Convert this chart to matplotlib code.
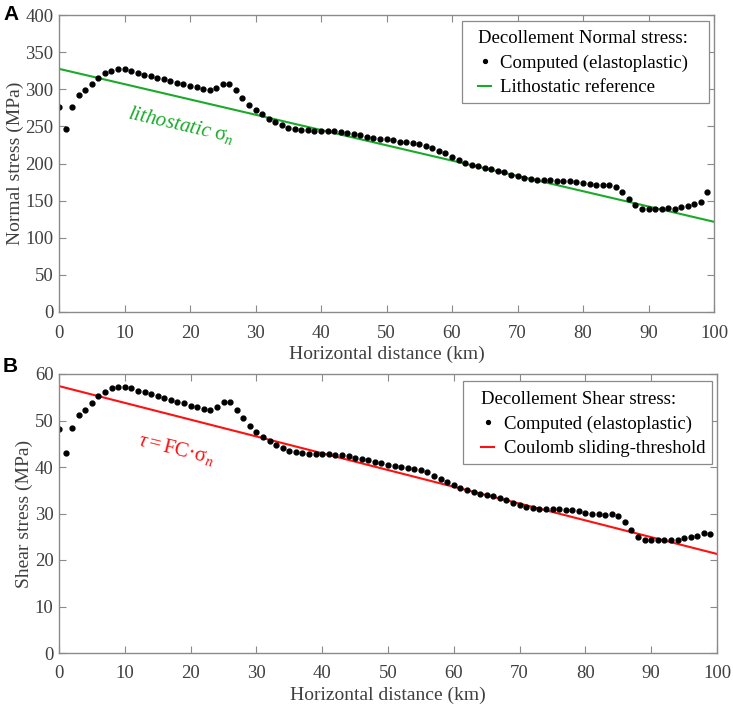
import numpy as np
import matplotlib
matplotlib.use("Agg")
from matplotlib import pyplot as plt
from matplotlib.patches import Rectangle

# distance along the decollement (km)
dist_km = np.arange(0, 100)

# computed normal stress (MPa)
normal_stress = [
    275.8, 246.6, 276.7, 292.4, 299.0, 306.7, 315.7, 321.5, 325.0, 327.0,
    327.0, 325.0, 322.4, 319.7, 317.5, 315.2, 313.5, 311.2, 309.0, 307.0,
    305.0, 302.7, 300.4, 298.7, 301.8, 307.6, 307.6, 299.0, 288.3, 279.0,
    272.0, 266.0, 260.0, 255.6, 252.0, 248.4, 246.6, 245.7, 244.8, 244.4,
    244.0, 244.0, 243.5, 242.6, 241.3, 240.0, 238.5, 236.3, 235.0, 233.6,
    232.7, 231.0, 229.6, 228.3, 227.0, 226.0, 224.2, 221.0, 217.5, 213.5,
    209.4, 205.0, 201.0, 198.0, 196.0, 193.7, 192.0, 190.0, 188.0, 184.8,
    182.5, 180.3, 179.0, 178.0, 177.6, 177.6, 177.0, 176.7, 175.8, 175.0,
    173.5, 172.2, 171.3, 170.4, 170.9, 169.0, 161.4, 152.0, 144.0, 139.0,
    139.0, 138.6, 139.0, 139.5, 139.0, 140.8, 143.0, 144.8, 148.0, 161.0,
]

# computed shear stress (MPa)
shear_stress = [
    48.2, 43.1, 48.4, 51.2, 52.2, 53.7, 55.2, 56.2, 56.9, 57.2,
    57.2, 56.9, 56.4, 56.1, 55.7, 55.2, 54.8, 54.4, 54.0, 53.7,
    53.2, 52.8, 52.5, 52.2, 52.8, 53.9, 53.9, 52.3, 50.5, 48.8,
    47.6, 46.5, 45.5, 44.7, 44.1, 43.5, 43.3, 43.1, 42.9, 42.8,
    42.8, 42.8, 42.6, 42.5, 42.3, 42.0, 41.8, 41.5, 41.1, 40.8,
    40.5, 40.2, 40.0, 39.8, 39.6, 39.4, 38.9, 38.1, 37.4, 36.7,
    36.1, 35.5, 35.0, 34.7, 34.3, 34.0, 33.7, 33.3, 32.9, 32.3,
    31.9, 31.5, 31.2, 31.0, 31.0, 31.0, 30.9, 30.8, 30.7, 30.5,
    30.2, 30.0, 29.8, 29.7, 29.8, 29.4, 28.2, 26.5, 25.0, 24.3,
    24.3, 24.3, 24.3, 24.3, 24.3, 24.7, 25.0, 25.2, 25.7, 25.5,
]

# reference lines (end points at 0 and 100 km)
ref_x = [0, 100]
litho_ref = [327.5, 121.5]
coulomb_ref = [57.4, 21.3]

plt.rcParams['font.family'] = ['Liberation Serif', 'DejaVu Serif']
plt.rcParams['mathtext.fontset'] = 'custom'
plt.rcParams['mathtext.rm'] = 'Liberation Serif'
plt.rcParams['mathtext.it'] = 'Liberation Serif:italic'

GRAY = '#404040'
SPINE = '#8a8a8a'
GREEN = '#1aaa2a'
RED = '#ff1010'

W, H = 733, 705
fig = plt.figure(figsize=(W / 100, H / 100), dpi=100)


def px_axes(left, top, right, bottom):
    # axes rectangle given in pixels from the top-left corner
    return fig.add_axes([left / W, 1 - bottom / H, (right - left) / W, (bottom - top) / H])


axA = px_axes(59, 15, 714, 312)
axB = px_axes(59, 374, 717, 653)


def style_axes(ax, ymax, ystep, ylabel):
    ax.set_xlim(0, 100)
    ax.set_ylim(0, ymax)
    ax.set_xticks(np.arange(0, 101, 10))
    ax.set_yticks(np.arange(0, ymax + 1, ystep))
    ax.tick_params(direction='in', top=True, right=True, length=5,
                   width=0.8, color=SPINE, labelcolor=GRAY, labelsize=13.5)
    ax.tick_params(axis='x', pad=9)
    ax.tick_params(axis='y', pad=4)
    for s in ax.spines.values():
        s.set_color(SPINE)
        s.set_linewidth(1.0)
    ax.set_xlabel('Horizontal distance (km)', fontsize=14, color=GRAY, labelpad=3)
    ax.set_ylabel(ylabel, fontsize=14, color=GRAY, labelpad=1)


def boxed_legend(ax, title, frame, anchor):
    # legend text without its own frame, plus a square frame drawn in pixels
    x0, y0, x1, y1 = frame
    ax.add_artist(Rectangle((x0 / W, 1 - y1 / H), (x1 - x0) / W, (y1 - y0) / H,
                            transform=fig.transFigure, facecolor='white',
                            edgecolor=SPINE, linewidth=0.9, zorder=4))
    h, l = ax.get_legend_handles_labels()
    leg = ax.legend(h[::-1], l[::-1], loc='upper left', title=title,
                    bbox_to_anchor=(anchor[0] / W, 1 - anchor[1] / H),
                    bbox_transform=fig.transFigure, frameon=False,
                    fontsize=13.5, title_fontsize=13.5, handlelength=0.7,
                    handletextpad=0.5, borderpad=0, borderaxespad=0,
                    labelspacing=0.4, markerscale=0.8)
    leg._legend_box.align = 'left'
    leg.set_zorder(5)
    return leg


# panel A - normal stress
axA.plot(ref_x, litho_ref, '-', color=GREEN, lw=1.5, label='Lithostatic reference')
axA.plot(dist_km, normal_stress, 'o', color='k', ms=3.5, label='Computed (elastoplastic)')
style_axes(axA, 400, 50, 'Normal stress (MPa)')
boxed_legend(axA, 'Decollement Normal stress:', (462, 21, 709, 103), (478, 30))
axA.text(18.6, 252, r'$\mathit{lithostatic}\ \mathrm{σ}_{\mathit{n}}$', color=GREEN,
         fontsize=15, rotation=-13, ha='center', va='center', rotation_mode='anchor')

# panel B - shear stress
axB.plot(ref_x, coulomb_ref, '-', color=RED, lw=1.5, label='Coulomb sliding-threshold')
axB.plot(dist_km, shear_stress, 'o', color='k', ms=3.5, label='Computed (elastoplastic)')
style_axes(axB, 60, 10, 'Shear stress (MPa)')
boxed_legend(axB, 'Decollement Shear stress:', (463, 381, 712, 464), (481, 391))
axB.text(17.8, 43.8, r'$\mathit{τ}\mathrm{=FC·σ}_{\mathit{n}}$', color=RED,
         fontsize=15, rotation=-14, ha='center', va='center', rotation_mode='anchor')

# panel letters
fig.text(3 / W, 1 - 15 / H, 'A', fontsize=15, fontweight='bold',
         family='Liberation Sans', va='center', ha='left')
fig.text(3 / W, 1 - 366 / H, 'B', fontsize=15, fontweight='bold',
         family='Liberation Sans', va='center', ha='left')

fig.savefig('out.png', dpi=100)
